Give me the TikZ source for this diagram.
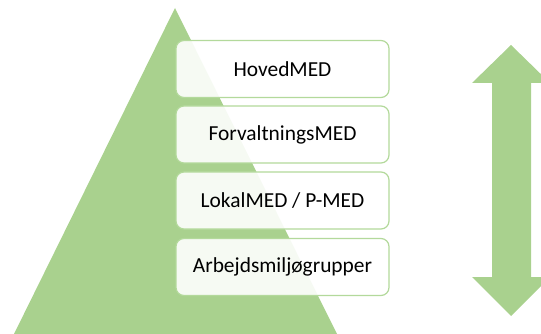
\documentclass[tikz,border=0pt]{standalone}
\usepackage{fontspec}
\setmainfont{Carlito}
\definecolor{pgreen}{HTML}{A9D18E}
\definecolor{bgreen}{HTML}{B3D99B}
\begin{document}
\begin{tikzpicture}[x=1pt,y=-1pt,
  level/.style={draw=bgreen, line width=1.2pt, fill=white, fill opacity=0.9, text opacity=1,
    rounded corners=8pt, minimum width=213pt, minimum height=57pt, inner sep=0pt,
    font=\fontsize{21.4}{25}\selectfont, text=black}]
\useasboundingbox (0,0) rectangle (541,334);
\clip (0,0) rectangle (541,334);
% pyramid
\fill[pgreen] (175,8) -- (337,334) -- (14,334) -- cycle;
% double arrow
\fill[pgreen] (511,45) -- (550,83) -- (531,83) -- (531,277) -- (550,277) -- (511,316)
  -- (472,277) -- (492,277) -- (492,83) -- (472,83) -- cycle;
% levels
\node[level] (hoved) at (282.5,69) {HovedMED};
\node[level] (forv) at (282.5,134.5) {ForvaltningsMED};
\node[level] (lokal) at (282.5,200.5) {LokalMED / P-MED};
\node[level] (arb) at (282.5,267) {Arbejdsmiljøgrupper};
\end{tikzpicture}
\end{document}
